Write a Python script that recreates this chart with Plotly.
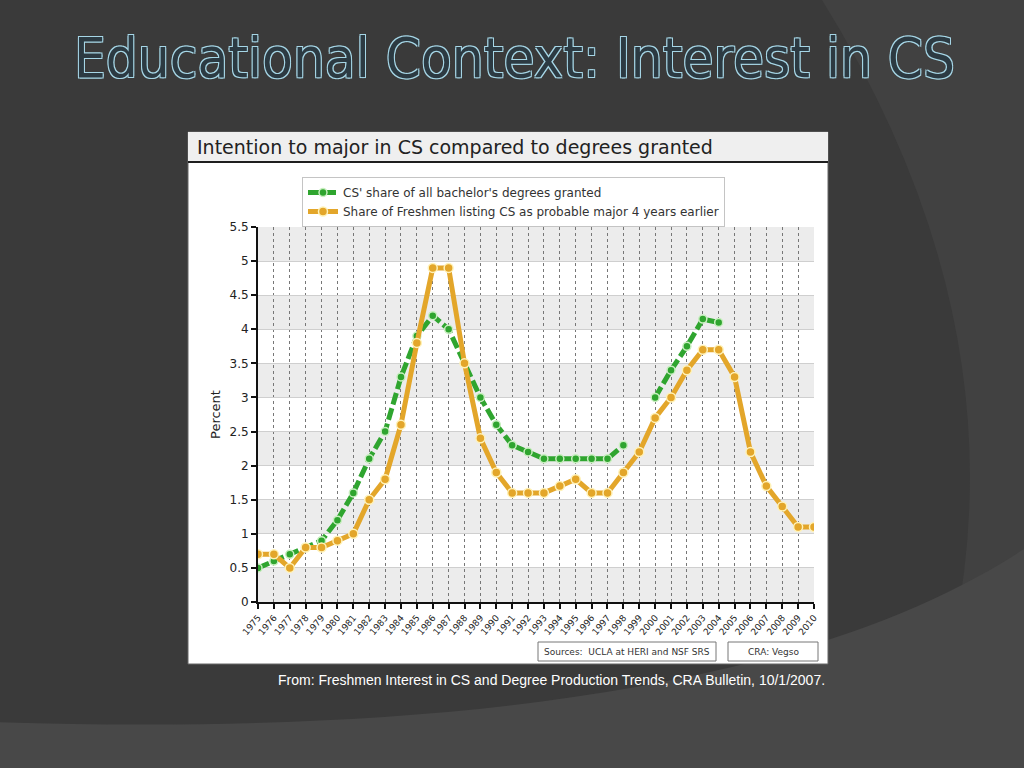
import plotly.graph_objects as go

years = list(range(1975, 2011))
cs_share_degrees = [0.5, 0.6, 0.7, 0.8, 0.9, 1.2, 1.6, 2.1, 2.5, 3.3,
                    3.9, 4.2, 4.0, 3.5, 3.0, 2.6, 2.3, 2.2, 2.1, 2.1,
                    2.1, 2.1, 2.1, 2.3, None, 3.0, 3.4, 3.75, 4.15, 4.1,
                    None, None, None, None, None, None]
freshmen_share = [0.7, 0.7, 0.5, 0.8, 0.8, 0.9, 1.0, 1.5, 1.8, 2.6,
                  3.8, 4.9, 4.9, 3.5, 2.4, 1.9, 1.6, 1.6, 1.6, 1.7,
                  1.8, 1.6, 1.6, 1.9, 2.2, 2.7, 3.0, 3.4, 3.7, 3.7,
                  3.3, 2.2, 1.7, 1.4, 1.1, 1.1]
series_names = ["CS' share of all bachelor's degrees granted",
                "Share of Freshmen listing CS as probable major 4 years earlier"]
y_ticks = [0, 0.5, 1, 1.5, 2, 2.5, 3, 3.5, 4, 4.5, 5, 5.5]

W, H = 1024, 768
X0, X1, YT, YB = 258, 814, 227, 602


def px(x):
    return (x - X0) / (X1 - X0)


def py(y):
    return (YB - y) / (YB - YT)


GREEN = "#2fa52f"
ORANGE = "#e3a62a"
FONT = "DejaVu Sans, Verdana, sans-serif"

fig = go.Figure()
fig.add_trace(go.Scatter(
    x=years, y=cs_share_degrees, name=series_names[0], mode="lines+markers",
    line=dict(color=GREEN, width=5, dash="12px,4px"),
    marker=dict(size=8, color=GREEN, line=dict(color="#c9efc0", width=1.5)),
    connectgaps=False))
fig.add_trace(go.Scatter(
    x=years, y=freshmen_share, name=series_names[1], mode="lines+markers",
    line=dict(color=ORANGE, width=5),
    marker=dict(size=9, color=ORANGE, line=dict(color="#fff2b8", width=1.5))))

shapes = []
# slide background decorations
shapes.append(dict(type="path", xref="paper", yref="paper", layer="below",
                   path=f"M {px(822)},{py(0)} Q {px(1060)},{py(384)} {px(915)},{py(768)} "
                        f"L {px(1030)},{py(768)} L {px(1030)},{py(-5)} L {px(822)},{py(-5)} Z",
                   fillcolor="#414141", line=dict(width=0)))
shapes.append(dict(type="path", xref="paper", yref="paper", layer="below",
                   path=f"M {px(-5)},{py(722)} C {px(400)},{py(735)} {px(800)},{py(700)} {px(1030)},{py(545)} "
                        f"L {px(1030)},{py(775)} L {px(-5)},{py(775)} Z",
                   fillcolor="#484848", line=dict(width=0)))
# chart panel
shapes.append(dict(type="rect", xref="paper", yref="paper", layer="below",
                   x0=px(188), x1=px(828), y0=py(664), y1=py(132),
                   fillcolor="white", line=dict(color="#666", width=1)))
shapes.append(dict(type="rect", xref="paper", yref="paper", layer="below",
                   x0=px(188), x1=px(828), y0=py(162), y1=py(132),
                   fillcolor="#efefef", line=dict(width=0)))
shapes.append(dict(type="line", xref="paper", yref="paper", layer="below",
                   x0=px(188), x1=px(828), y0=py(162), y1=py(162),
                   line=dict(color="#1e1e1e", width=2)))
# alternating bands
for i in range(0, 11, 2):
    shapes.append(dict(type="rect", xref="x domain", yref="y", layer="below",
                       x0=0, x1=1, y0=i * 0.5, y1=i * 0.5 + 0.5,
                       fillcolor="#ececec", line=dict(width=0)))
# source boxes
shapes.append(dict(type="rect", xref="paper", yref="paper",
                   x0=px(538), x1=px(716), y0=py(661), y1=py(642),
                   fillcolor="white", line=dict(color="#777", width=1)))
shapes.append(dict(type="rect", xref="paper", yref="paper",
                   x0=px(728), x1=px(818), y0=py(661), y1=py(642),
                   fillcolor="white", line=dict(color="#777", width=1)))

annotations = [
    dict(text="Educational Context: Interest in CS", xref="paper", yref="paper",
         x=px(514), y=py(58), xanchor="center", yanchor="middle", showarrow=False,
         font=dict(family="DejaVu Sans Condensed, Liberation Sans Narrow, DejaVu Sans", size=56,
                   color="#2c3a42",
                   shadow="1px 1px 0 #a6d6e6, -1px -1px 0 #a6d6e6, 1px -1px 0 #a6d6e6, -1px 1px 0 #a6d6e6")),
    dict(text="Intention to major in CS compared to degrees granted", xref="paper", yref="paper",
         x=px(195), y=py(147), xanchor="left", yanchor="middle", showarrow=False,
         font=dict(family=FONT, size=19, color="#222")),
    dict(text="Sources:  UCLA at HERI and NSF SRS", xref="paper", yref="paper",
         x=px(627), y=py(651.5), xanchor="center", yanchor="middle", showarrow=False,
         font=dict(family=FONT, size=9, color="#333")),
    dict(text="CRA: Vegso", xref="paper", yref="paper",
         x=px(773), y=py(651.5), xanchor="center", yanchor="middle", showarrow=False,
         font=dict(family=FONT, size=9, color="#333")),
    dict(text="From: Freshmen Interest in CS and Degree Production Trends, CRA Bulletin, 10/1/2007.",
         xref="paper", yref="paper", x=px(276), y=py(680), xanchor="left", yanchor="middle",
         showarrow=False, font=dict(family="Liberation Sans, Arial, sans-serif", size=14, color="white")),
]

fig.update_layout(
    width=W, height=H, autosize=False,
    margin=dict(l=X0, r=W - X1, t=YT, b=H - YB),
    paper_bgcolor="#3a3a3a", plot_bgcolor="rgba(0,0,0,0)",
    shapes=shapes, annotations=annotations,
    showlegend=True,
    legend=dict(x=px(302), y=py(177), xanchor="left", yanchor="top",
                bgcolor="white", bordercolor="#c4c4c4", borderwidth=1,
                font=dict(family=FONT, size=12, color="#333"),
                tracegroupgap=0, itemwidth=30),
    font=dict(family=FONT, color="#222"),
)
fig.update_xaxes(range=[1975, 2010], tickmode="array", tickvals=years,
                 ticktext=[str(y) for y in years], tickangle=-50,
                 tickfont=dict(size=9, color="#222"),
                 showgrid=True, gridcolor="#777", griddash="dot", gridwidth=1,
                 showline=True, linecolor="#111", linewidth=2,
                 ticks="outside", ticklen=5, tickcolor="#111", tickwidth=1.5,
                 zeroline=False, fixedrange=True)
fig.update_yaxes(range=[0, 5.5], tickmode="array", tickvals=y_ticks,
                 tickfont=dict(size=12, color="#222"),
                 showgrid=True, gridcolor="#cfcfcf", gridwidth=1,
                 showline=True, linecolor="#111", linewidth=2,
                 ticks="outside", ticklen=5, tickcolor="#111", tickwidth=1.5,
                 zeroline=False,
                 title=dict(text="Percent", font=dict(size=13, color="#222"), standoff=6))

fig.write_html("out.html", config={"displayModeBar": False},
               post_script="document.body.style.margin='0';")
